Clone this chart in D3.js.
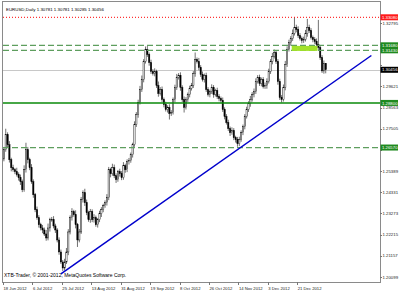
<!DOCTYPE html>
<html>
<head>
<meta charset="utf-8">
<script src="https://cdn.jsdelivr.net/npm/d3@7"></script>
<style>
body { margin: 0; background: #fff; }
svg { display: block; }
text { font-family: "Liberation Sans", Arial, sans-serif; }
</style>
</head>
<body>
<script>
// EURUSD daily bars, prices in pips (12646 = 1.2646)
const closes = [
  12646,12721,12671,12596,12556,12546,12536,12521,12506,12486,
  12446,12546,12646,12596,12556,12486,12421,12346,12306,12271,
  12255,12245,12225,12205,12255,12296,12296,12265,12245,12195,
  12135,12085,12055,12085,12135,12235,12306,12336,12321,12271,
  12195,12235,12396,12431,12381,12331,12296,12336,12296,12306,
  12271,12296,12326,12346,12366,12381,12406,12546,12526,12556,
  12516,12496,12536,12526,12506,12566,12546,12586,12591,12621,
  12671,12772,12822,12882,12947,12997,13087,13147,13122,13082,
  13037,13027,13037,12967,12927,12947,12897,12872,12847,12857,
  12827,12832,12897,12957,13007,13017,12957,12897,12857,12897,
  12922,12952,12967,13027,13097,13087,13057,13022,12997,13017,
  12947,12922,12937,12957,12922,12942,12912,12902,12892,12847,
  12812,12782,12752,12731,12742,12706,12696,12676,12696,12731,
  12762,12812,12847,12877,12897,12922,12937,12987,13007,12977,
  12997,12962,12967,12987,13037,13087,13112,13132,13087,12987,
  12907,12897,12957,13072,13147,13182,13202,13227,13257,13247,
  13217,13202,13192,13197,13227,13257,13242,13207,13197,13187,
  13172,13157,13107,13040,13078,13046
];
const upperWick = [
  14,30,12,18,10,15,9,20,12,16, 11,22,35,14,10,18,12,9,16,13,
  10,15,12,20,22,10,14,18,11,9, 13,12,10,16,20,14,12,18,10,22,
  9,15,14,12,20,16,10,14,12,18, 11,9,15,13,10,12,18,14,10,20,
  16,12,9,15,13,18,10,12,14,11, 10,16,12,14,18,20,12,15,18,10,
  14,12,16,9,20,12,15,10,14,11, 16,12,10,14,18,12,16,11,15,12,
  10,14,13,12,35,10,18,12,15,10, 14,12,10,16,12,9,14,12,10,15,
  11,12,14,10,16,12,10,14,15,12, 10,12,14,11,18,12,15,16,12,14,
  10,12,15,16,14,12,18,15,10,12, 14,12,15,18,16,14,12,20,51,14,
  16,12,10,14,18,43,14,12,10,12, 15,123,10,12,14,0
];
const lowerWick = [
  12,10,15,14,18,10,12,9,14,16, 12,10,14,18,12,10,15,12,10,14,
  12,16,10,14,12,18,10,12,15,12, 14,10,15,12,10,16,12,14,10,18,
  35,12,10,14,16,12,10,15,12,14, 10,14,12,16,12,10,14,12,18,10,
  12,16,10,14,12,10,15,12,14,10, 14,10,12,16,10,12,14,10,12,16,
  12,10,14,12,16,10,12,14,10,15, 30,12,10,14,12,10,16,12,25,10,
  12,14,10,12,16,10,14,12,10,15, 12,10,14,12,16,10,12,14,10,12,
  14,10,12,16,10,12,14,15,12,10, 12,14,10,12,16,10,14,12,10,12,
  14,10,12,16,10,12,14,10,12,16, 12,15,10,14,12,10,16,12,10,14,
  12,10,14,12,10,16,12,10,14,12, 10,14,12,10,14,18
];
const firstOpen = 12600;

const dateLabels = ["18 Jun 2012", "6 Jul 2012", "25 Jul 2012", "13 Aug 2012", "31 Aug 2012",
                    "19 Sep 2012", "8 Oct 2012", "26 Oct 2012", "14 Nov 2012", "3 Dec 2012", "21 Dec 2012"];
const barsPerLabel = 16;

const priceTicks = [1.32795, 1.31737, 1.30679, 1.29621, 1.28563, 1.27505, 1.26447,
                    1.25389, 1.24331, 1.23273, 1.22215, 1.21157, 1.20099];

// horizontal objects on the chart
const highLevel = 1.33080;
const dashedLevels = [1.31680, 1.31430, 1.26570];
const supportLevel = 1.28800;
const bidPrice = 1.30456;

// trend line anchors: [bar index, price]
const trendLine = [[31.5, 1.2025], [200.3, 1.3117]];
// highlighted zone: bars and price band
const zoneBars = [157, 171];
const zonePrices = [1.3165, 1.3140];

const headerText = "EURUSD,Daily  1.30781 1.30781 1.30285 1.30456";
const copyright = "XTB-Trader, \u00a9 2001-2012, MetaQuotes Software Corp.";

const W = 400, H = 294;
const plot = {left: 3, top: 2, right: 380, bottom: 282};

let bars = closes.map((c, i) => {
  let o = i === 0 ? firstOpen : closes[i - 1];
  return {
    i: i,
    open: o / 10000,
    close: c / 10000,
    high: (Math.max(o, c) + upperWick[i]) / 10000,
    low: (Math.min(o, c) - lowerWick[i]) / 10000
  };
});

let x = d3.scaleLinear().domain([0, 205]).range([plot.left, plot.right]);
let y = d3.scaleLinear().domain([1.20099, 1.32795]).range([277, 23]);

let svg = d3.select('body').append('svg')
            .attr('width', W)
            .attr('height', H);

svg.append('rect')
   .attr('width', W).attr('height', H)
   .attr('fill', '#fff');

svg.append('clipPath').attr('id', 'plotClip')
   .append('rect')
   .attr('x', plot.left).attr('y', plot.top)
   .attr('width', plot.right - plot.left)
   .attr('height', plot.bottom - plot.top);

let g = svg.append('g').attr('clip-path', 'url(#plotClip)');

// bid line
g.append('line')
 .attr('x1', plot.left).attr('x2', plot.right)
 .attr('y1', Math.round(y(bidPrice)) + 0.5).attr('y2', Math.round(y(bidPrice)) + 0.5)
 .attr('stroke', '#c8c8c8')
 .attr('stroke-width', 1);

// candles
const bw = 1.3;
let candle = g.append('g').selectAll('g')
              .data(bars)
              .enter()
              .append('g');

candle.append('line')
      .attr('x1', d => x(d.i) + 0.9)
      .attr('x2', d => x(d.i) + 0.9)
      .attr('y1', d => y(d.high))
      .attr('y2', d => y(d.low))
      .attr('stroke', '#333')
      .attr('stroke-width', 0.7);

candle.append('rect')
      .attr('x', d => x(d.i) + 0.9 - bw / 2)
      .attr('y', d => y(Math.max(d.open, d.close)))
      .attr('width', bw)
      .attr('height', d => Math.max(0.6, Math.abs(y(d.open) - y(d.close))))
      .attr('fill', d => d.close >= d.open ? '#fff' : '#000')
      .attr('stroke', '#000')
      .attr('stroke-width', 0.45);

// objects
g.append('line')
 .attr('x1', plot.left).attr('x2', plot.right)
 .attr('y1', y(highLevel)).attr('y2', y(highLevel))
 .attr('stroke', '#ff0000')
 .attr('stroke-width', 1)
 .attr('stroke-dasharray', '1,2');

g.selectAll('.dashLevel')
 .data(dashedLevels)
 .enter()
 .append('line')
 .attr('class', 'dashLevel')
 .attr('x1', plot.left).attr('x2', plot.right)
 .attr('y1', d => y(d)).attr('y2', d => y(d))
 .attr('stroke', '#5e9e5e')
 .attr('stroke-width', 1.3)
 .attr('stroke-dasharray', '6,3');

g.append('line')
 .attr('x1', plot.left).attr('x2', plot.right)
 .attr('y1', y(supportLevel)).attr('y2', y(supportLevel))
 .attr('stroke', '#0a8a0a')
 .attr('stroke-width', 1.6);

g.append('rect')
 .attr('x', x(zoneBars[0]))
 .attr('y', y(zonePrices[0]))
 .attr('width', x(zoneBars[1]) - x(zoneBars[0]))
 .attr('height', y(zonePrices[1]) - y(zonePrices[0]))
 .attr('fill', '#a2e22a');

g.append('line')
 .attr('x1', x(trendLine[0][0])).attr('y1', y(trendLine[0][1]))
 .attr('x2', x(trendLine[1][0])).attr('y2', y(trendLine[1][1]))
 .attr('stroke', '#0000cc')
 .attr('stroke-width', 1.5);

// frame
svg.append('rect')
   .attr('x', plot.left - 0.5).attr('y', plot.top - 0.5)
   .attr('width', plot.right - plot.left + 1)
   .attr('height', plot.bottom - plot.top + 1)
   .attr('fill', 'none')
   .attr('stroke', '#8a8a8a')
   .attr('stroke-width', 1);

// texts inside the chart
svg.append('text')
   .attr('x', 6).attr('y', 11)
   .attr('font-size', 4.4)
   .attr('fill', '#000')
   .text(headerText);

svg.append('text')
   .attr('x', 4).attr('y', 277)
   .attr('font-size', 5)
   .attr('fill', '#000')
   .text(copyright);

// price tags for the objects
let tags = [
  {price: highLevel, color: '#ff1a1a'},
  {price: dashedLevels[0], color: '#1f8a1f'},
  {price: dashedLevels[1], color: '#1f8a1f'},
  {price: bidPrice, color: '#000'},
  {price: supportLevel, color: '#1f8a1f'},
  {price: dashedLevels[2], color: '#1f8a1f'}
];

// price axis: a tick label hidden behind a tag is not drawn (like the terminal does)
let visibleTicks = priceTicks.filter(t => tags.every(d => Math.abs(y(t) - y(d.price)) > 4.5));

let yAxis = svg.append('g');
yAxis.selectAll('line')
     .data(priceTicks)
     .enter()
     .append('line')
     .attr('x1', plot.right).attr('x2', plot.right + 2)
     .attr('y1', d => Math.round(y(d)) + 0.5).attr('y2', d => Math.round(y(d)) + 0.5)
     .attr('stroke', '#777');
yAxis.selectAll('text')
     .data(visibleTicks)
     .enter()
     .append('text')
     .attr('x', plot.right + 2.5)
     .attr('y', d => y(d) + 1.6)
     .attr('font-size', 4.3)
     .attr('fill', '#222')
     .text(d => d.toFixed(5));

let tag = svg.append('g').selectAll('g')
             .data(tags)
             .enter()
             .append('g')
             .attr('transform', d => `translate(${plot.right + 0.5},${y(d.price) - 3})`);
tag.append('rect')
   .attr('width', 17.5).attr('height', 6)
   .attr('fill', d => d.color);
tag.append('text')
   .attr('x', 1.5).attr('y', 4.6)
   .attr('font-size', 4.3)
   .attr('fill', '#fff')
   .text(d => d.price.toFixed(5));

// time axis
let xAxis = svg.append('g');
xAxis.selectAll('line')
     .data(dateLabels)
     .enter()
     .append('line')
     .attr('x1', (d, k) => Math.round(x(k * barsPerLabel)) + 0.5)
     .attr('x2', (d, k) => Math.round(x(k * barsPerLabel)) + 0.5)
     .attr('y1', plot.bottom).attr('y2', plot.bottom + 3)
     .attr('stroke', '#777');
xAxis.selectAll('text')
     .data(dateLabels)
     .enter()
     .append('text')
     .attr('x', (d, k) => x(k * barsPerLabel) + 0.5)
     .attr('y', 289.5)
     .attr('font-size', 4.2)
     .attr('fill', '#222')
     .text(d => d);
</script>
</body>
</html>
